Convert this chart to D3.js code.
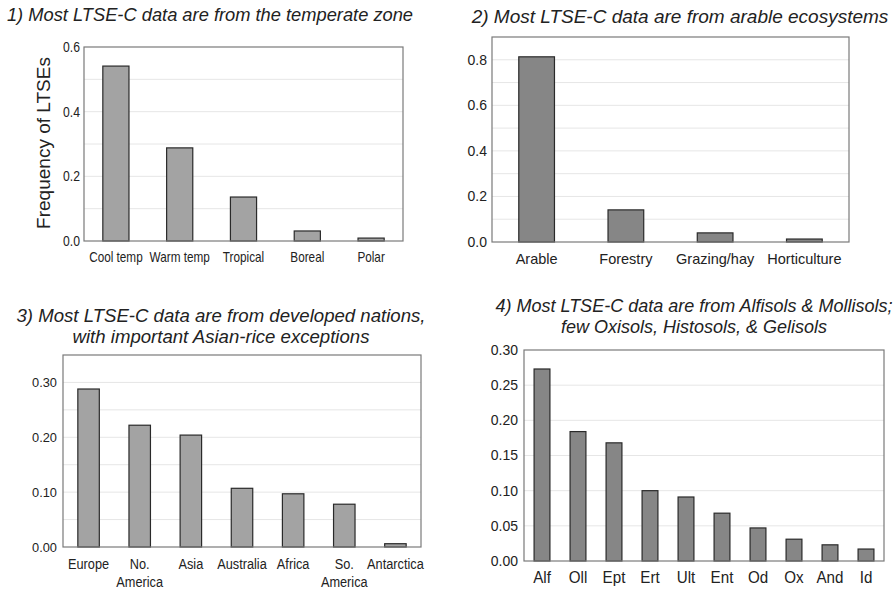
<!DOCTYPE html>
<html>
<head>
<meta charset="utf-8">
<script src="https://cdn.jsdelivr.net/npm/d3@7"></script>
<style>
  html, body { margin: 0; padding: 0; background: #fff; }
  svg { display: block; }
</style>
</head>
<body>
<svg id="chart" width="894" height="591"></svg>
<script>
// ---------- DATA ----------
const climateCategories = ["Cool temp", "Warm temp", "Tropical", "Boreal", "Polar"];
const climateValues     = [0.541, 0.288, 0.136, 0.031, 0.009];
const climateTicks      = [0.0, 0.2, 0.4, 0.6];

const ecosystemCategories = ["Arable", "Forestry", "Grazing/hay", "Horticulture"];
const ecosystemValues     = [0.813, 0.141, 0.040, 0.013];
const ecosystemTicks      = [0.0, 0.2, 0.4, 0.6, 0.8];

const continentCategories = ["Europe", "No.\nAmerica", "Asia", "Australia", "Africa", "So.\nAmerica", "Antarctica"];
const continentValues     = [0.288, 0.222, 0.204, 0.107, 0.097, 0.078, 0.006];
const continentTicks      = [0.00, 0.10, 0.20, 0.30];

const soilCategories = ["Alf", "Oll", "Ept", "Ert", "Ult", "Ent", "Od", "Ox", "And", "Id"];
const soilValues     = [0.273, 0.184, 0.168, 0.100, 0.091, 0.068, 0.047, 0.031, 0.023, 0.017];
const soilTicks      = [0.00, 0.05, 0.10, 0.15, 0.20, 0.25, 0.30];

const titles = [
  ["1) Most LTSE-C data are from the temperate zone"],
  ["2) Most LTSE-C data are from arable ecosystems"],
  ["3) Most LTSE-C data are from developed nations,", "with important Asian-rice exceptions"],
  ["4) Most LTSE-C data are from Alfisols & Mollisols;", "few Oxisols, Histosols, & Gelisols"]
];
const yAxisLabel = "Frequency of LTSEs";

// ---------- DRAW ----------
const svg = d3.select("#chart");
const FONT = "'Liberation Sans', Arial, Helvetica, sans-serif";
const TEXT = "#222";

function drawPanel(cfg) {
  const g = svg.append("g");
  const x = d3.scaleBand().domain(cfg.cats).range([cfg.x0, cfg.x1]).paddingInner(cfg.pad).paddingOuter(cfg.pad / 2);
  const y = d3.scaleLinear().domain([0, cfg.yMax]).range([cfg.y1, cfg.y0]);

  // gridlines
  g.append("g").selectAll("line").data(cfg.grid).join("line")
    .attr("x1", cfg.x0).attr("x2", cfg.x1)
    .attr("y1", d => y(d)).attr("y2", d => y(d))
    .attr("stroke", "#e6e6e6").attr("stroke-width", 1);

  // bars
  g.append("g").selectAll("rect").data(cfg.vals).join("rect")
    .attr("x", (d, i) => x(cfg.cats[i]))
    .attr("width", x.bandwidth())
    .attr("y", d => y(d))
    .attr("height", d => y(0) - y(d))
    .attr("fill", cfg.fill)
    .attr("stroke", "#2a2a2a").attr("stroke-width", 1.2);

  // frame
  g.append("rect")
    .attr("x", cfg.x0).attr("y", cfg.y0)
    .attr("width", cfg.x1 - cfg.x0).attr("height", cfg.y1 - cfg.y0)
    .attr("fill", "none").attr("stroke", "#7a7a7a").attr("stroke-width", 1.2);

  // y axis
  const ya = g.append("g").attr("transform", `translate(${cfg.x0},0)`)
    .call(d3.axisLeft(y).tickValues(cfg.ticks).tickSize(0).tickPadding(cfg.yPad).tickFormat(d3.format(cfg.fmt)));
  ya.select(".domain").remove();
  ya.selectAll("text").attr("fill", TEXT).style("font-family", FONT).style("font-size", cfg.ySize + "px")
    .attr("x", -cfg.yPad / cfg.ySx)
    .attr("transform", `scale(${cfg.ySx},1)`);

  // x axis
  const xa = g.append("g").attr("transform", `translate(0,${cfg.y1})`)
    .call(d3.axisBottom(x).tickSize(0).tickPadding(cfg.xPad));
  xa.select(".domain").remove();
  xa.selectAll("text").attr("fill", TEXT).style("font-family", FONT).style("font-size", cfg.xSize + "px")
    .attr("transform", `scale(${cfg.xSx},1)`)
    .each(function(d) {
      const parts = d.split("\n");
      if (parts.length > 1) {
        const t = d3.select(this);
        t.text(null);
        parts.forEach((p, k) => {
          t.append("tspan").attr("x", 0).attr("dy", k === 0 ? "0.71em" : "1.2em").text(p);
        });
        t.attr("dy", null);
      }
    });

  // title
  const tt = g.append("text").attr("text-anchor", "middle")
    .attr("fill", TEXT).style("font-family", FONT).style("font-style", "italic")
    .style("font-size", cfg.titleSize + "px");
  cfg.title.forEach((line, k) => {
    tt.append("tspan").attr("x", cfg.titleX).attr("y", cfg.titleY + k * cfg.titleLH).text(line);
  });
  return g;
}

drawPanel({
  cats: climateCategories, vals: climateValues, ticks: climateTicks, grid: [0.1, 0.2, 0.3, 0.4, 0.5],
  x0: 84, x1: 403, y0: 47, y1: 241, yMax: 0.6, pad: 0.59, fill: "#a3a3a3",
  fmt: ".1f", ySize: 14, ySx: 0.87, yPad: 4, xSize: 14, xSx: 0.84, xPad: 11,
  title: titles[0], titleX: 210, titleY: 21, titleLH: 19, titleSize: 18.3
});

drawPanel({
  cats: ecosystemCategories, vals: ecosystemValues, ticks: ecosystemTicks, grid: [0.1, 0.2, 0.3, 0.4, 0.5, 0.6, 0.7, 0.8],
  x0: 492, x1: 849, y0: 37, y1: 242, yMax: 0.9, pad: 0.6, fill: "#868686",
  fmt: ".1f", ySize: 14, ySx: 1, yPad: 5, xSize: 14.5, xSx: 1, xPad: 12,
  title: titles[1], titleX: 680, titleY: 23, titleLH: 19, titleSize: 19
});

drawPanel({
  cats: continentCategories, vals: continentValues, ticks: continentTicks, grid: [0.05, 0.10, 0.15, 0.20, 0.25, 0.30],
  x0: 63, x1: 421, y0: 355, y1: 547, yMax: 0.35, pad: 0.58, fill: "#a3a3a3",
  fmt: ".2f", ySize: 13.5, ySx: 0.95, yPad: 6, xSize: 15, xSx: 0.85, xPad: 11,
  title: titles[2], titleX: 221, titleY: 322, titleLH: 20.5, titleSize: 18.6
});

drawPanel({
  cats: soilCategories, vals: soilValues, ticks: soilTicks, grid: [0.05, 0.10, 0.15, 0.20, 0.25],
  x0: 524, x1: 884, y0: 350, y1: 561, yMax: 0.30, pad: 0.56, fill: "#868686",
  fmt: ".2f", ySize: 14, ySx: 1, yPad: 6, xSize: 16.5, xSx: 0.92, xPad: 10,
  title: titles[3], titleX: 694, titleY: 312, titleLH: 20.5, titleSize: 18
});

// y-axis title of panel 1
svg.append("text")
  .attr("transform", "translate(50,143) rotate(-90)")
  .attr("text-anchor", "middle")
  .attr("fill", TEXT)
  .style("font-family", FONT).style("font-size", "19px")
  .text(yAxisLabel);
</script>
</body>
</html>
